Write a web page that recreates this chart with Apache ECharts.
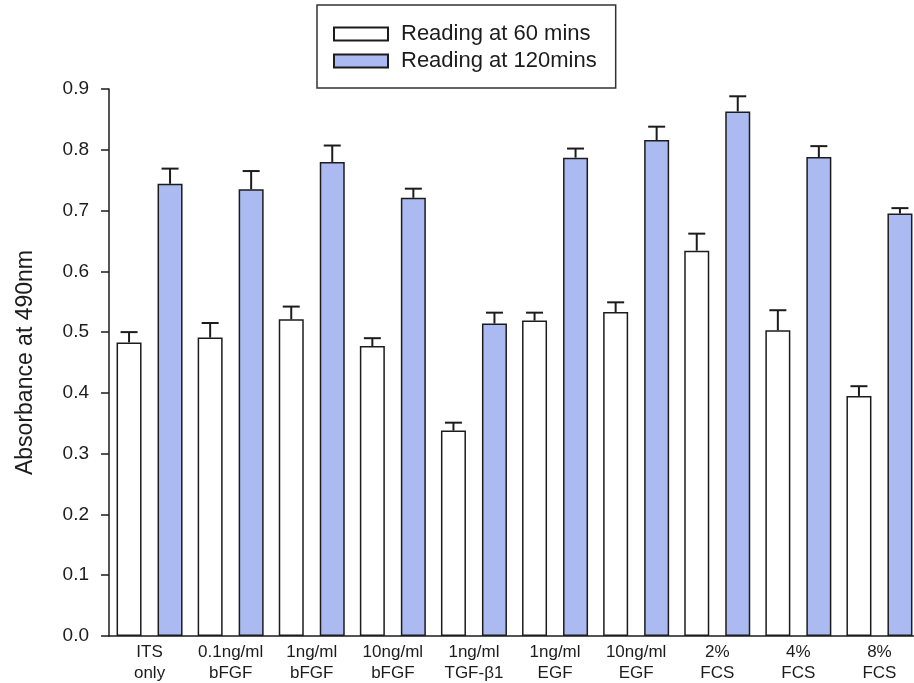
<!DOCTYPE html>
<html>
<head>
<meta charset="utf-8">
<script src="https://cdn.jsdelivr.net/npm/echarts@6/dist/echarts.min.js"></script>
<style>
  html, body { margin: 0; padding: 0; background: #fff; }
  #chart { width: 914px; height: 683px; }
</style>
</head>
<body>
<div id="chart"></div>
<script>
// Treatment groups (two-line axis labels)
const categories = [
  'ITS\nonly', '0.1ng/ml\nbFGF', '1ng/ml\nbFGF', '10ng/ml\nbFGF', '1ng/ml\nTGF-β1',
  '1ng/ml\nEGF', '10ng/ml\nEGF', '2%\nFCS', '4%\nFCS', '8%\nFCS'
];

// Absorbance at 490nm, mean and upper error
const reading60 = [0.483, 0.491, 0.521, 0.477, 0.338, 0.519, 0.533, 0.634, 0.503, 0.395];
const err60     = [0.017, 0.024, 0.021, 0.013, 0.013, 0.013, 0.016, 0.028, 0.033, 0.016];
const reading120 = [0.744, 0.735, 0.780, 0.721, 0.514, 0.787, 0.816, 0.863, 0.788, 0.695];
const err120     = [0.025, 0.030, 0.027, 0.015, 0.018, 0.015, 0.022, 0.025, 0.018, 0.009];

const yTicks = [0, 0.1, 0.2, 0.3, 0.4, 0.5, 0.6, 0.7, 0.8, 0.9];

const FONT = "'Liberation Sans', Arial, Helvetica, sans-serif";
const INK = '#1c1c1c';
const BLUE = '#abbaf0';
const BAR_W = 25;
const BAR_GAP = 16;

function errorBarSeries(name, means, errs, side) {
  return {
    name: name + ' error',
    type: 'custom',
    z: 5,
    silent: true,
    data: means.map((m, i) => [i, m, errs[i]]),
    renderItem(params, api) {
      const idx = api.value(0);
      const base = api.coord([idx, api.value(1)]);
      const top = api.coord([idx, api.value(1) + api.value(2)]);
      const x = base[0] + side * (BAR_W + BAR_GAP) / 2;
      const cap = 8.5;
      const style = { stroke: INK, lineWidth: 2 };
      return {
        type: 'group',
        children: [
          { type: 'line', shape: { x1: x, y1: base[1], x2: x, y2: top[1] }, style },
          { type: 'line', shape: { x1: x - cap, y1: top[1], x2: x + cap, y2: top[1] }, style }
        ]
      };
    }
  };
}

const chart = echarts.init(document.getElementById('chart'), null, { renderer: 'canvas' });

chart.setOption({
  backgroundColor: '#fff',
  animation: false,
  textStyle: { fontFamily: FONT },
  grid: { left: 109, top: 89, height: 547, width: 811, containLabel: false, outerBoundsMode: 'none' },
  legend: {
    left: 317,
    top: 5,
    orient: 'vertical',
    padding: [18, 19, 16, 16],
    backgroundColor: '#fff',
    borderColor: '#333',
    borderWidth: 1.5,
    borderRadius: 0,
    itemWidth: 54,
    itemHeight: 13,
    itemGap: 5,
    icon: 'rect',
    textStyle: { fontFamily: FONT, fontSize: 22, lineHeight: 20, color: INK, padding: [0, 0, 0, 8] },
    data: ['Reading at 60 mins', 'Reading at 120mins']
  },
  xAxis: {
    type: 'category',
    data: categories,
    axisLine: { lineStyle: { color: INK, width: 1.5 } },
    axisTick: { show: false },
    axisLabel: {
      interval: 0,
      fontFamily: FONT,
      fontSize: 17,
      lineHeight: 21,
      color: INK,
      margin: 6
    }
  },
  yAxis: {
    type: 'value',
    min: yTicks[0],
    max: yTicks[yTicks.length - 1],
    interval: 0.1,
    name: 'Absorbance at 490nm',
    nameLocation: 'middle',
    nameGap: 72,
    nameTextStyle: { fontFamily: FONT, fontSize: 23, color: INK },
    axisLine: { show: true, lineStyle: { color: INK, width: 1.5 } },
    axisTick: { show: true, length: 8, lineStyle: { color: INK, width: 1.5 } },
    splitLine: { show: false },
    axisLabel: {
      fontFamily: FONT,
      fontSize: 19,
      color: INK,
      margin: 20,
      formatter: v => v.toFixed(1)
    }
  },
  series: [
    {
      name: 'Reading at 60 mins',
      type: 'bar',
      data: reading60,
      barWidth: BAR_W,
      barGap: (BAR_GAP / BAR_W * 100) + '%',
      itemStyle: { color: '#fff', borderColor: INK, borderWidth: 1.5 }
    },
    {
      name: 'Reading at 120mins',
      type: 'bar',
      data: reading120,
      barWidth: BAR_W,
      barGap: (BAR_GAP / BAR_W * 100) + '%',
      itemStyle: { color: BLUE, borderColor: INK, borderWidth: 1.5 }
    },
    errorBarSeries('Reading at 60 mins', reading60, err60, -1),
    errorBarSeries('Reading at 120mins', reading120, err120, 1)
  ]
});
</script>
</body>
</html>
